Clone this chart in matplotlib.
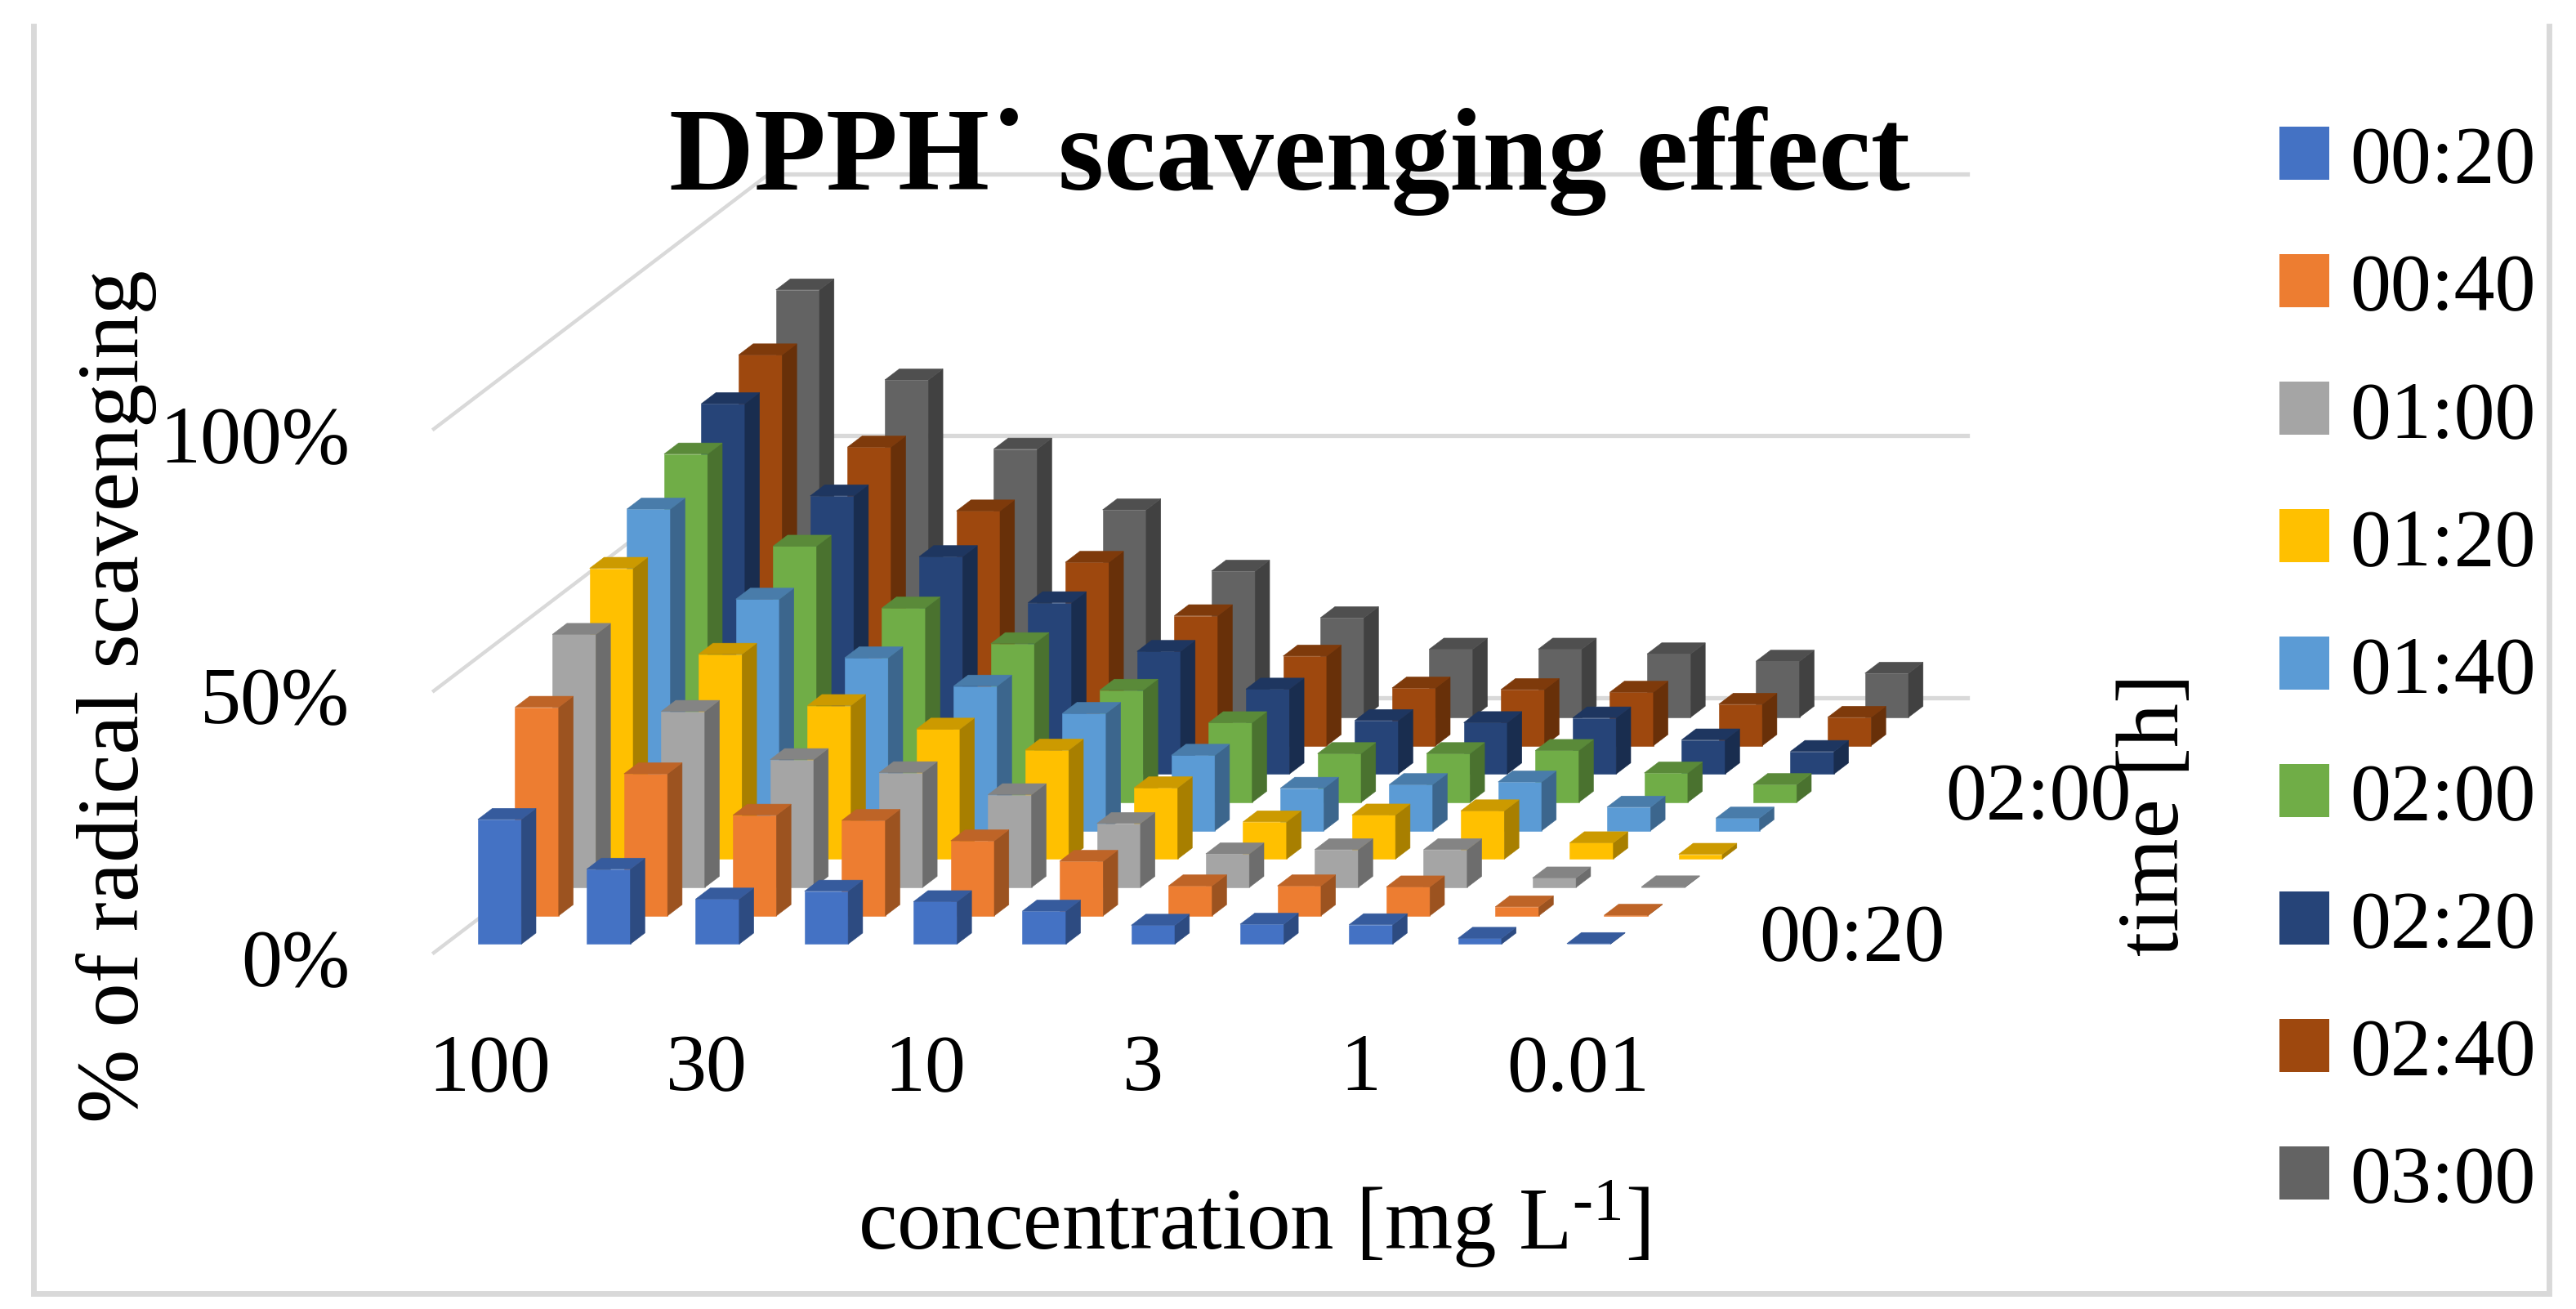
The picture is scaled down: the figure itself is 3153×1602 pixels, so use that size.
import matplotlib
matplotlib.use("Agg")
import matplotlib.pyplot as plt
import numpy as np
from matplotlib.patches import Polygon, Patch

plt.rcParams['font.family'] = ['Liberation Serif', 'DejaVu Serif']
plt.rcParams['mathtext.fontset'] = 'custom'
plt.rcParams['mathtext.rm'] = 'Liberation Serif'
plt.rcParams['mathtext.default'] = 'regular'

# values, % of radical scavenging per concentration
times = ['00:20', '00:40', '01:00', '01:20', '01:40', '02:00', '02:20', '02:40', '03:00']
t0020 = [23.8, 14.3, 8.6, 10.1, 8.1, 6.3, 3.6, 3.8, 3.7, 1.1, 0.1]
t0040 = [39.8, 27.1, 19.2, 18.2, 14.3, 10.4, 5.7, 5.7, 5.5, 1.7, 0.1]
t0100 = [48.3, 33.6, 24.4, 21.9, 17.7, 12.2, 6.4, 7.2, 7.2, 1.8, 0.1]
t0120 = [55.5, 39.1, 29.3, 24.8, 20.8, 13.6, 7.1, 8.4, 9.2, 3.1, 0.9]
t0140 = [61.4, 44.2, 33.0, 27.6, 22.4, 14.4, 8.1, 8.8, 9.3, 4.5, 2.4]
t0200 = [66.5, 48.9, 37.1, 30.3, 21.4, 15.2, 9.3, 9.3, 9.9, 5.6, 3.4]
t0220 = [70.7, 53.1, 41.5, 32.7, 23.4, 16.2, 10.2, 9.8, 10.7, 6.5, 4.3]
t0240 = [74.6, 57.0, 44.8, 35.0, 24.8, 17.1, 11.0, 10.7, 10.2, 7.9, 5.4]
t0300 = [81.6, 64.4, 51.2, 39.6, 27.9, 19.0, 13.0, 13.0, 12.1, 10.7, 8.4]
series = [t0020, t0040, t0100, t0120, t0140, t0200, t0220, t0240, t0300]

colors = ['#4472C4', '#ED7D31', '#A5A5A5', '#FFC000', '#5B9BD5',
          '#70AD47', '#264478', '#9E480E', '#636363']

conc_labels = ['100', '30', '10', '3', '1', '0.01']
conc_label_pos = [0, 2, 4, 6, 8, 10]
time_labels = ['00:20', '02:00']
time_label_pos = [0, 5]
y_ticks = [0, 50, 100]

# oblique projection of the Excel 3D chart, in output pixels
X0, Y0 = 531, 1166
CAT_W, DEPTH_X, DEPTH_Y, PCT = 133.3, 45.6, 34.7, 6.41
BAR_W, BAR_D = 0.40, 0.39


def project(c, s, v=0):
    return X0 + CAT_W * c + DEPTH_X * s, Y0 - DEPTH_Y * s - PCT * v


def shade(color, k):
    rgb = np.array(matplotlib.colors.to_rgb(color))
    return tuple(rgb * k)


def draw_bar(ax, c, s, v, color):
    x0, x1 = c + 0.5 - BAR_W / 2, c + 0.5 + BAR_W / 2
    d0, d1 = s + 0.5 - BAR_D / 2, s + 0.5 + BAR_D / 2
    faces = [
        ([(x0, d0, 0), (x1, d0, 0), (x1, d0, v), (x0, d0, v)], color),
        ([(x1, d0, 0), (x1, d1, 0), (x1, d1, v), (x1, d0, v)], shade(color, 0.66)),
        ([(x0, d0, v), (x1, d0, v), (x1, d1, v), (x0, d1, v)], shade(color, 0.80)),
    ]
    for pts, fc in faces:
        ax.add_patch(Polygon([project(*p) for p in pts], closed=True, facecolor=fc,
                             edgecolor=fc, linewidth=0.4, zorder=3))


fig = plt.figure(figsize=(31.53, 16.02), dpi=100)
ax = fig.add_axes([0, 0, 1, 1])
ax.set_xlim(0, 3153)
ax.set_ylim(1602, 0)
ax.set_axis_off()

# chart frame, open at the top like the original crop
ax.plot([41, 41, 3120, 3120], [32, 1583, 1583, 32], color='#D9D9D9', lw=5,
        solid_joinstyle='miter', zorder=1)

# walls
n_cat, n_ser = len(t0020), len(series)
for v in y_ticks:
    p0 = project(0, 0, v)
    p1 = project(0, n_ser, v)
    p2 = project(n_cat, n_ser, v)
    ax.plot([p0[0], p1[0]], [p0[1], p1[1]], color='#D9D9D9', lw=3.2, zorder=1)
    ax.plot([p1[0], p2[0]], [p1[1], p2[1]], color='#D9D9D9', lw=3.8, zorder=1)
    ax.text(428, p0[1] + 16, f'{v}%', ha='right', va='center', fontsize=72)

for s in range(n_ser - 1, -1, -1):
    for c in range(n_cat - 1, -1, -1):
        draw_bar(ax, c, s, series[s][c], colors[s])

for c, lab in zip(conc_label_pos, conc_labels):
    ax.text(project(c + 0.5, 0)[0] + 1, 1310, lab, ha='center', va='center', fontsize=72)
for s, lab in zip(time_label_pos, time_labels):
    px, py = project(n_cat, s + 0.5)
    ax.text(px + 133, py + 3, lab, ha='left', va='center', fontsize=72)

ax.text(819, 232, 'DPPH˙ scavenging effect', ha='left', va='baseline',
        fontsize=103.7, fontweight='bold', zorder=5)
ax.text(1534, 1498, 'concentration [mg L$^{\\text{-1}}$]', ha='center', va='center', fontsize=77)
ax.text(143, 852, '% of radical scavenging', rotation=90, ha='center', va='center', fontsize=78)
ax.text(2640, 997, 'time [h]', rotation=90, ha='center', va='center', fontsize=78)

handles = [Patch(facecolor=col, label=t) for col, t in zip(colors, times)]
ax.legend(handles=handles, loc='center left', bbox_to_anchor=(2790 / 3153, 1 - 823 / 1602),
          frameon=False, fontsize=72, handlelength=0.61, handleheight=0.62,
          handletextpad=0.25, labelspacing=0.66, borderpad=0, borderaxespad=0)

fig.savefig('out.png', dpi=100, facecolor='white')
plt.close(fig)
